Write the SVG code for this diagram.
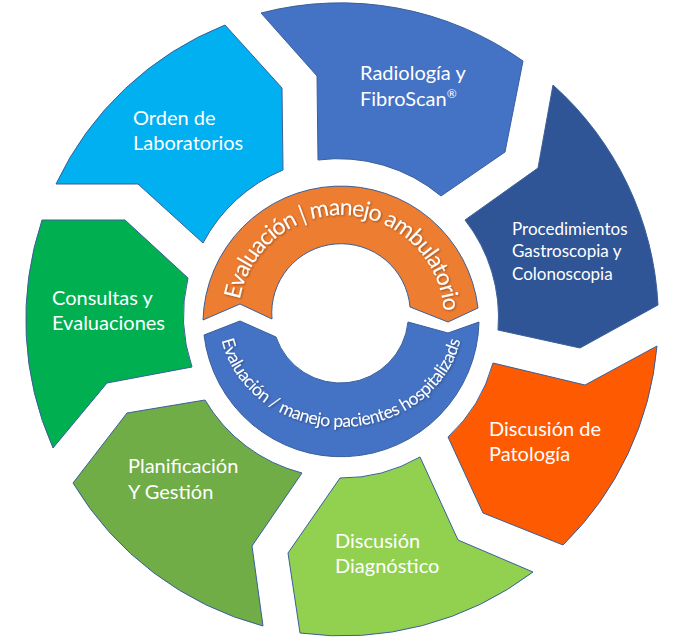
<svg xmlns="http://www.w3.org/2000/svg" width="685" height="644" viewBox="0 0 685 644">
<style>
.seg{stroke:#3A5F9A;stroke-width:1;stroke-linejoin:miter}
.lbl{font-family:Lato,"Open Sans",sans-serif;font-size:20px;fill:#ffffff}
.ring{font-family:Lato,"Open Sans",sans-serif;fill:#ffffff}
</style>
<defs>
<path id="arcTop" d="M 238,318 A 103 103 0 0 1 444,318"/>
<path id="arcBot" d="M 219,318 A 122 109 0 0 0 463,318"/>
<filter id="sh" x="-10%" y="-10%" width="120%" height="120%">
<feDropShadow dx="1" dy="1" stdDeviation="0.8" flood-color="#000" flood-opacity="0.35"/>
</filter>
</defs>
<rect width="685" height="644" fill="#ffffff"/>
<g id="orden">
<path class="seg" fill="#00B0F0" d="M 56,184 A 316 316 0 0 1 225,25 L 282,88 L 283,170 A 160 160 0 0 0 203,243 L 138,184 Z"/>
<text class="lbl" x="133" y="125">Orden de</text>
<text class="lbl" x="133" y="150">Laboratorios</text>
</g>
<g id="radiologia">
<path class="seg" fill="#4472C4" d="M 261,13 A 316 316 0 0 1 523,61 L 505,152 L 441,196 A 160 160 0 0 0 318,160 L 317,76 Z"/>
<text class="lbl" x="360" y="80">Radiología y</text>
<text class="lbl" x="360" y="106">FibroScan<tspan font-size="12" dy="-8">®</tspan></text>
</g>
<g id="procedimientos">
<path class="seg" fill="#2F5597" d="M 553,85 A 316 316 0 0 1 658,305 L 580,348 L 498,330 A 158 158 0 0 0 465,220 L 538,168 Z"/>
<text class="lbl" style="font-size:17px" x="512" y="235">Procedimientos</text>
<text class="lbl" style="font-size:17px" x="512" y="257">Gastroscopia y</text>
<text class="lbl" style="font-size:17px" x="512" y="280">Colonoscopia</text>
</g>
<g id="patologia">
<path class="seg" fill="#FD5A02" d="M 657,346 A 316 316 0 0 1 563,545 L 483,513 L 448,437 A 156 156 0 0 0 493,363 L 585,385 Z"/>
<text class="lbl" x="489" y="436">Discusión de</text>
<text class="lbl" x="489" y="461">Patología</text>
</g>
<g id="diagnostico">
<path class="seg" fill="#92D050" d="M 533,572 A 316 316 0 0 1 300,633 L 288,553 L 340,478 A 156 156 0 0 0 420,457 L 458,540 Z"/>
<text class="lbl" x="335" y="548">Discusión</text>
<text class="lbl" x="335" y="573">Diagnóstico</text>
</g>
<g id="planificacion">
<path class="seg" fill="#70AD47" d="M 263,626 A 316 316 0 0 1 73,483 L 127,413 L 205,400 A 158 158 0 0 0 302,473 L 252,546 Z"/>
<text class="lbl" x="128" y="473">Planificación</text>
<text class="lbl" x="128" y="499">Y Gestión</text>
</g>
<g id="consultas">
<path class="seg" fill="#00B050" d="M 53,448 A 316 316 0 0 1 42,220 L 125,220 L 188,278 A 160 160 0 0 0 192,367 L 107,383 Z"/>
<text class="lbl" x="52" y="305">Consultas y</text>
<text class="lbl" x="52" y="330">Evaluaciones</text>
</g>
<g id="ambulatorio">
<path class="seg" fill="#ED7D31" d="M 203,320 A 138 138 0 0 1 478,308 L 448,322 L 410,307 A 69 69 0 0 0 272,319 L 240,304 Z"/>
<text class="ring" font-size="23" filter="url(#sh)"><textPath href="#arcTop" startOffset="51.8%" text-anchor="middle" textLength="298" lengthAdjust="spacing">Evaluación | manejo ambulatorio</textPath></text>
</g>
<g id="hospitalizados">
<path class="seg" fill="#4472C4" d="M 479,322 A 138 138 0 0 1 204,335 L 240,321 L 276,337 A 68 68 0 0 0 408,322 L 448,333 Z"/>
<text class="ring" font-size="17.5" filter="url(#sh)"><textPath href="#arcBot" startOffset="50%" text-anchor="middle" textLength="318" lengthAdjust="spacing">Evaluación / manejo pacientes hospitalizads</textPath></text>
</g>
</svg>
